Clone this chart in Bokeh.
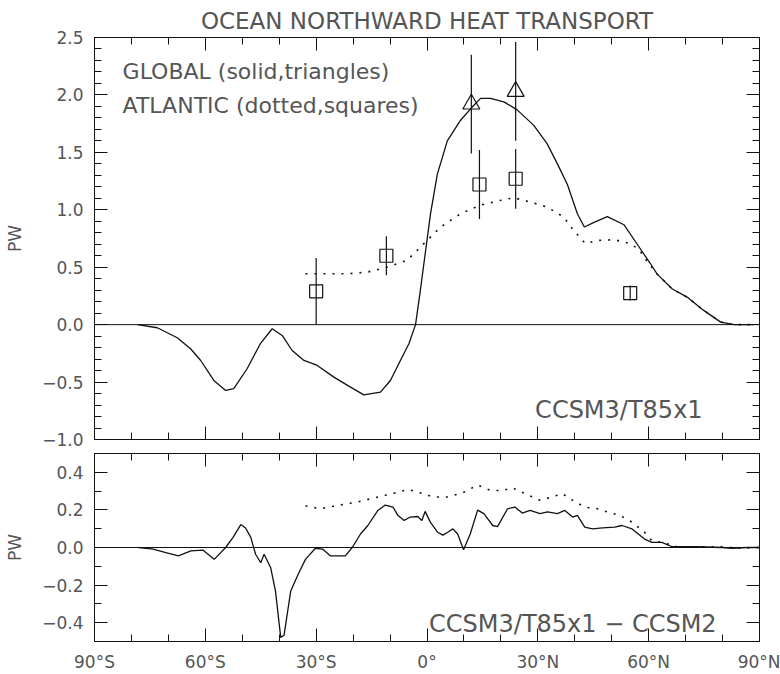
from bokeh.plotting import figure
from bokeh.layouts import column
from bokeh.models import Span, Label, FixedTicker, LinearAxis
from bokeh.embed import file_html
from bokeh.resources import INLINE

# ---------------- data ----------------
# Global ocean northward heat transport, CCSM3/T85x1 (PW)
lat_glb = [-78.4, -73.0, -67.6, -64.0, -61.3, -57.7, -54.5, -52.3, -48.7, -45.1,
           -41.9, -39.2, -36.5, -33.3, -29.7, -25.2, -20.7, -17.1, -12.6, -9.9,
           -7.2, -4.9, -3.1, -1.8, -0.85, 0.96, 2.8, 5.5, 9.1, 12.1,
           14.5, 17.2, 20.8, 24.4, 28.9, 32.5, 35.3, 38.0, 40.7, 42.6,
           45.2, 48.8, 53.3, 56.9, 60.5, 62.3, 66.4, 70.4, 74.9, 79.5,
           83.1, 88.4]
ht_glb = [0.0, -0.027, -0.114, -0.21, -0.31, -0.486, -0.573, -0.558, -0.384, -0.166,
          -0.036, -0.094, -0.225, -0.312, -0.355, -0.457, -0.544, -0.611, -0.588, -0.486,
          -0.312, -0.166, 0.0, 0.298, 0.53, 0.966, 1.31, 1.60, 1.78, 1.89,
          1.97, 1.97, 1.94, 1.87, 1.735, 1.576, 1.40, 1.22, 0.966, 0.85,
          0.89, 0.94, 0.87, 0.70, 0.53, 0.44, 0.31, 0.24, 0.124, 0.022,
          0.0, 0.0]

# Atlantic ocean northward heat transport, CCSM3/T85x1 (PW)
lat_atl = [-32.9, -25.2, -21.6, -16.2, -10.8, -5.4, -0.85, 3.7, 9.1, 14.5,
           19.0, 23.5, 28.0, 32.5, 37.0, 39.7, 42.9, 46.1, 50.6, 55.1,
           57.5, 59.6, 62.3, 66.4, 70.4, 74.9, 79.5, 83.1, 88.4]
ht_atl = [0.443, 0.443, 0.443, 0.457, 0.50, 0.56, 0.705, 0.85, 0.966, 1.04,
          1.076, 1.105, 1.067, 1.024, 0.937, 0.82, 0.705, 0.733, 0.74, 0.705,
          0.65, 0.55, 0.44, 0.31, 0.24, 0.124, 0.022, 0.0, 0.0]

# Observational estimates: global (triangles) and Atlantic (squares)
obs_glb_lat = [12.0, 24.0]
obs_glb_val = [1.92, 2.03]
obs_glb_err = [0.43, 0.43]
obs_atl_lat = [-30.0, -11.0, 14.2, 24.0, 55.0]
obs_atl_val = [0.29, 0.60, 1.22, 1.27, 0.275]
obs_atl_err = [0.29, 0.17, 0.30, 0.26, 0.065]

# Difference CCSM3/T85x1 - CCSM2, global (PW)
lat_dglb = [-78.1, -74.1, -70.7, -67.3, -63.9, -60.6, -57.6, -54.5, -52.5, -50.4,
            -49.1, -47.7, -46.4, -45.0, -44.1, -42.3, -41.0, -39.6, -38.7, -36.9,
            -34.9, -32.9, -30.2, -28.2, -26.1, -24.1, -22.1, -20.1, -18.0, -16.0,
            -13.3, -11.3, -9.2, -7.9, -6.2, -4.5, -2.5, -1.4, -0.5, 0.9,
            2.9, 4.3, 5.6, 7.0, 8.3, 9.9, 11.7, 13.7, 15.4, 17.8,
            19.1, 21.8, 23.8, 25.8, 27.9, 30.6, 32.6, 35.3, 37.3, 39.4,
            40.7, 42.7, 44.8, 47.5, 50.8, 52.8, 55.5, 58.9, 60.9, 63.6,
            66.3, 73.1, 79.9, 82.6, 86.6, 90.0]
d_glb = [0.0, -0.009, -0.027, -0.045, -0.018, -0.014, -0.063, 0.0, 0.054, 0.122,
         0.104, 0.054, -0.036, -0.081, -0.036, -0.108, -0.233, -0.478, -0.467, -0.233,
         -0.144, -0.063, -0.004, -0.009, -0.045, -0.045, -0.045, 0.004, 0.072, 0.117,
         0.197, 0.226, 0.215, 0.171, 0.144, 0.162, 0.165, 0.144, 0.192, 0.135,
         0.081, 0.066, 0.081, 0.099, 0.072, -0.012, 0.072, 0.199, 0.180, 0.117,
         0.111, 0.206, 0.215, 0.183, 0.197, 0.180, 0.189, 0.180, 0.197, 0.162,
         0.171, 0.108, 0.099, 0.104, 0.108, 0.117, 0.099, 0.045, 0.027, 0.027,
         0.004, 0.004, 0.0, -0.004, 0.0, 0.0]

# Difference CCSM3/T85x1 - CCSM2, Atlantic (PW)
lat_datl = [-32.9, -28.8, -24.1, -18.7, -13.3, -9.2, -5.2, -1.1, 1.6, 5.6,
            9.7, 13.7, 17.1, 20.4, 23.1, 26.5, 30.6, 33.9, 36.6, 39.4,
            42.7, 46.1, 48.8, 52.2, 55.5, 58.9, 60.9, 63.6, 67.7, 79.9,
            84.0, 90.0]
d_atl = [0.221, 0.206, 0.224, 0.242, 0.269, 0.287, 0.309, 0.287, 0.269, 0.269,
         0.291, 0.332, 0.305, 0.302, 0.318, 0.287, 0.251, 0.269, 0.287, 0.251,
         0.215, 0.206, 0.189, 0.171, 0.135, 0.081, 0.036, 0.027, 0.004, 0.004,
         -0.004, 0.0]

# Axis ticks and labels
lat_ticks = [-90, -60, -30, 0, 30, 60, 90]
lat_minor = [-80, -70, -50, -40, -20, -10, 10, 20, 40, 50, 70, 80]
lat_labels = ["90°S", "60°S", "30°S", "0°", "30°N", "60°N", "90°N"]
top_ticks = [-1.0, -0.5, 0.0, 0.5, 1.0, 1.5, 2.0, 2.5]
top_labels = ["−1.0", "−0.5", "0.0", "0.5", "1.0", "1.5", "2.0", "2.5"]
top_minor = [round(-1.0 + 0.1 * i, 1) for i in range(36)]
bot_ticks = [-0.4, -0.2, 0.0, 0.2, 0.4]
bot_labels = ["−0.4", "−0.2", "0.0", "0.2", "0.4"]
bot_minor = [round(-0.5 + 0.1 * i, 1) for i in range(11)]

FONT = "DejaVu Sans"
TXT = "#555555"
INK = "#111111"


def style_axis(ax, ticks, minor, labels=None, show_labels=True):
    ax.ticker = FixedTicker(ticks=ticks, minor_ticks=minor)
    ax.axis_line_color = None
    ax.major_tick_in = 13
    ax.major_tick_out = 0
    ax.minor_tick_in = 7
    ax.minor_tick_out = 0
    ax.major_tick_line_color = INK
    ax.minor_tick_line_color = INK
    if show_labels:
        ax.major_label_overrides = {t: s for t, s in zip(ticks, labels)}
        ax.major_label_text_font = FONT
        ax.major_label_text_font_size = "17px"
        ax.major_label_text_color = TXT
    else:
        # tick marks only: labels are neither drawn nor given room
        ax.major_label_text_font_size = "0px"
        ax.major_label_text_color = None
        ax.major_label_standoff = 0


def make_panel(height, y0, y1, yt, ym, ylab, top, bottom, xlabels):
    p = figure(width=780, height=height, x_range=(-90, 90), y_range=(y0, y1),
               output_backend="svg", toolbar_location=None,
               min_border_left=94, min_border_right=21,
               min_border_top=top, min_border_bottom=bottom)
    p.xgrid.visible = False
    p.ygrid.visible = False
    p.outline_line_color = INK
    p.outline_line_width = 1
    p.background_fill_color = "white"
    p.border_fill_color = "white"

    style_axis(p.xaxis[0], lat_ticks, lat_minor, lat_labels, show_labels=xlabels)
    if xlabels:
        p.xaxis[0].major_label_standoff = 10
    style_axis(p.yaxis[0], yt, ym, ylab)
    p.yaxis[0].major_label_standoff = 11
    p.yaxis[0].axis_label = "PW"
    p.yaxis[0].axis_label_text_font = FONT
    p.yaxis[0].axis_label_text_font_size = "17px"
    p.yaxis[0].axis_label_text_font_style = "normal"
    p.yaxis[0].axis_label_text_color = TXT
    p.yaxis[0].axis_label_standoff = 14

    ax_top = LinearAxis()
    style_axis(ax_top, lat_ticks, lat_minor, show_labels=False)
    p.add_layout(ax_top, "above")
    ax_right = LinearAxis()
    style_axis(ax_right, yt, ym, show_labels=False)
    p.add_layout(ax_right, "right")

    p.add_layout(Span(location=0, dimension="width", line_color=INK, line_width=1))
    return p


# ---------------- top panel: heat transport ----------------
p1 = make_panel(451, -1.0, 2.5, top_ticks, top_minor, top_labels, 37, 12, False)
p1.title.text = "OCEAN NORTHWARD HEAT TRANSPORT"
p1.title.align = "center"
p1.title.text_font = FONT
p1.title.text_font_size = "23px"
p1.title.text_font_style = "normal"
p1.title.text_color = TXT
p1.title.standoff = 7

p1.line(lat_glb, ht_glb, line_color=INK, line_width=1.3)
p1.line(lat_atl, ht_atl, line_color=INK, line_width=1.6, line_dash="2 7")

p1.segment(obs_glb_lat, [v - e for v, e in zip(obs_glb_val, obs_glb_err)],
           obs_glb_lat, [v + e for v, e in zip(obs_glb_val, obs_glb_err)],
           line_color=INK, line_width=1.2)
p1.segment(obs_atl_lat, [v - e for v, e in zip(obs_atl_val, obs_atl_err)],
           obs_atl_lat, [v + e for v, e in zip(obs_atl_val, obs_atl_err)],
           line_color=INK, line_width=1.2)
p1.scatter(obs_glb_lat, obs_glb_val, marker="triangle", size=17,
           fill_color=None, line_color=INK, line_width=1.2)
p1.scatter(obs_atl_lat, obs_atl_val, marker="square", size=13,
           fill_color=None, line_color=INK, line_width=1.2)

for yv, txt in [(2.2, "GLOBAL (solid,triangles)"), (1.91, "ATLANTIC (dotted,squares)")]:
    p1.add_layout(Label(x=-82.4, y=yv, text=txt, text_baseline="middle",
                        text_font=FONT, text_font_size="22px", text_color=TXT))
p1.add_layout(Label(x=74.6, y=-0.74, text="CCSM3/T85x1", text_align="right",
                    text_baseline="middle", text_font=FONT,
                    text_font_size="24px", text_color=TXT))

# ---------------- bottom panel: model difference ----------------
p2 = make_panel(223, -0.5, 0.5, bot_ticks, bot_minor, bot_labels, 2, 33, True)
p2.line(lat_dglb, d_glb, line_color=INK, line_width=1.3)
p2.line(lat_datl, d_atl, line_color=INK, line_width=1.6, line_dash="2 7")
p2.add_layout(Label(x=78.4, y=-0.406, text="CCSM3/T85x1 − CCSM2", text_align="right",
                    text_baseline="middle", text_font=FONT,
                    text_font_size="24px", text_color=TXT))

layout = column(p1, p2, spacing=0)
open("out.html", "w").write(file_html(layout, INLINE))
